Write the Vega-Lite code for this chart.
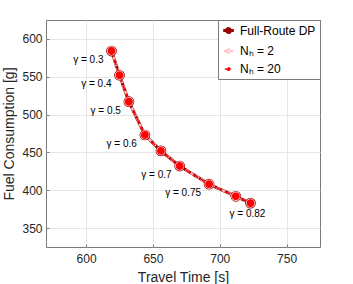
{
  "$schema": "https://vega.github.io/schema/vega-lite/v6.json",
  "width": 274,
  "height": 227,
  "autosize": {"type": "none"},
  "padding": {"left": 46, "top": 20, "right": 33, "bottom": 37},
  "background": "white",
  "config": {
    "font": "Liberation Sans",
    "view": {"stroke": "#7a7a7a", "strokeWidth": 1},
    "axis": {
      "domain": false,
      "grid": true,
      "gridColor": "#e6e6e6",
      "tickColor": "#7a7a7a",
      "tickSize": -3,
      "labelFont": "Liberation Sans",
      "labelFontSize": 12,
      "labelColor": "#262626",
      "titleFont": "Liberation Sans",
      "titleFontSize": 14,
      "titleFontWeight": "normal",
      "titleColor": "#262626"
    },
    "legend": {
      "orient": "top-right",
      "offset": 0,
      "strokeColor": "#7a7a7a",
      "fillColor": "white",
      "padding": 4,
      "labelFont": "Liberation Sans",
      "labelFontSize": 12,
      "labelColor": "#000000",
      "labelOffset": 5,
      "rowPadding": 5,
      "symbolType": "M-1.15,0H1.15M-0.42,0A0.42,0.42,0,1,0,0.42,0A0.42,0.42,0,1,0,-0.42,0",
      "symbolSize": 289,
      "symbolStrokeWidth": 2,
      "symbolFillColor": "white"
    }
  },
  "datasets": {
    "curves": [
      {"series": "Full-Route DP", "time": 619, "fuel": 584, "label": "γ = 0.3"},
      {"series": "Full-Route DP", "time": 625, "fuel": 552, "label": "γ = 0.4"},
      {"series": "Full-Route DP", "time": 632, "fuel": 517, "label": "γ = 0.5"},
      {"series": "Full-Route DP", "time": 644, "fuel": 473, "label": "γ = 0.6"},
      {"series": "Full-Route DP", "time": 656, "fuel": 452, "label": ""},
      {"series": "Full-Route DP", "time": 670, "fuel": 432, "label": "γ = 0.7"},
      {"series": "Full-Route DP", "time": 692, "fuel": 408, "label": "γ = 0.75"},
      {"series": "Full-Route DP", "time": 712, "fuel": 392, "label": ""},
      {"series": "Full-Route DP", "time": 723, "fuel": 383, "label": "γ = 0.82"},
      {"series": "Nₕ = 2", "time": 619, "fuel": 584, "label": ""},
      {"series": "Nₕ = 2", "time": 625, "fuel": 552, "label": ""},
      {"series": "Nₕ = 2", "time": 632, "fuel": 517, "label": ""},
      {"series": "Nₕ = 2", "time": 644, "fuel": 473, "label": ""},
      {"series": "Nₕ = 2", "time": 656, "fuel": 452, "label": ""},
      {"series": "Nₕ = 2", "time": 670, "fuel": 432, "label": ""},
      {"series": "Nₕ = 2", "time": 692, "fuel": 408, "label": ""},
      {"series": "Nₕ = 2", "time": 712, "fuel": 392, "label": ""},
      {"series": "Nₕ = 2", "time": 723, "fuel": 383, "label": ""},
      {"series": "Nₕ = 20", "time": 619, "fuel": 584, "label": ""},
      {"series": "Nₕ = 20", "time": 625, "fuel": 552, "label": ""},
      {"series": "Nₕ = 20", "time": 632, "fuel": 517, "label": ""},
      {"series": "Nₕ = 20", "time": 644, "fuel": 473, "label": ""},
      {"series": "Nₕ = 20", "time": 656, "fuel": 452, "label": ""},
      {"series": "Nₕ = 20", "time": 670, "fuel": 432, "label": ""},
      {"series": "Nₕ = 20", "time": 692, "fuel": 408, "label": ""},
      {"series": "Nₕ = 20", "time": 712, "fuel": 392, "label": ""},
      {"series": "Nₕ = 20", "time": 723, "fuel": 383, "label": ""}
    ]
  },
  "data": {"name": "curves"},
  "layer": [
    {
      "mark": {"type": "line"},
      "encoding": {
        "x": {"field": "time", "type": "quantitative", "scale": {"domain": [570, 775], "nice": false, "zero": false}, "axis": {"title": "Travel Time [s]", "values": [600, 650, 700, 750], "labelPadding": 9, "titlePadding": 6}},
        "y": {"field": "fuel", "type": "quantitative", "scale": {"domain": [325, 625], "nice": false, "zero": false}, "axis": {"title": "Fuel Consumption [g]", "values": [350, 400, 450, 500, 550, 600], "labelPadding": 7, "titlePadding": 5}},
        "stroke": {"field": "series", "type": "nominal", "scale": {"domain": ["Full-Route DP", "Nₕ = 2", "Nₕ = 20"], "range": ["#990000", "#ffc6cc", "#ff0000"]}, "legend": {"title": null}},
        "strokeDash": {"field": "series", "type": "nominal", "scale": {"domain": ["Full-Route DP", "Nₕ = 2", "Nₕ = 20"], "range": [[1, 0], [4, 2], [6, 3]]}, "legend": {"title": null}},
        "strokeWidth": {"field": "series", "type": "nominal", "scale": {"domain": ["Full-Route DP", "Nₕ = 2", "Nₕ = 20"], "range": [3, 1.5, 2]}, "legend": null}
      }
    },
    {
      "mark": {"type": "point", "shape": "circle", "strokeWidth": 1.5, "opacity": 1},
      "encoding": {
        "x": {"field": "time", "type": "quantitative"},
        "y": {"field": "fuel", "type": "quantitative"},
        "stroke": {"field": "series", "type": "nominal", "legend": {"title": null}},
        "fill": {"field": "series", "type": "nominal", "scale": {"domain": ["Full-Route DP", "Nₕ = 2", "Nₕ = 20"], "range": ["transparent", "transparent", "#ff0000"]}, "legend": null},
        "size": {"field": "series", "type": "nominal", "scale": {"domain": ["Full-Route DP", "Nₕ = 2", "Nₕ = 20"], "range": [85, 40, 22]}, "legend": null}
      }
    },
    {
      "transform": [{"filter": "datum.series == 'Full-Route DP' && datum.label != '' && datum.label != 'γ = 0.82'"}],
      "mark": {"type": "text", "align": "right", "baseline": "middle", "dx": -8, "dy": 9, "fontSize": 10, "color": "#000000"},
      "encoding": {
        "x": {"field": "time", "type": "quantitative"},
        "y": {"field": "fuel", "type": "quantitative"},
        "text": {"field": "label"}
      }
    },
    {
      "transform": [{"filter": "datum.label == 'γ = 0.82'"}],
      "mark": {"type": "text", "align": "center", "baseline": "middle", "dx": -3, "dy": 11, "fontSize": 10, "color": "#000000"},
      "encoding": {
        "x": {"field": "time", "type": "quantitative"},
        "y": {"field": "fuel", "type": "quantitative"},
        "text": {"field": "label"}
      }
    }
  ]
}
